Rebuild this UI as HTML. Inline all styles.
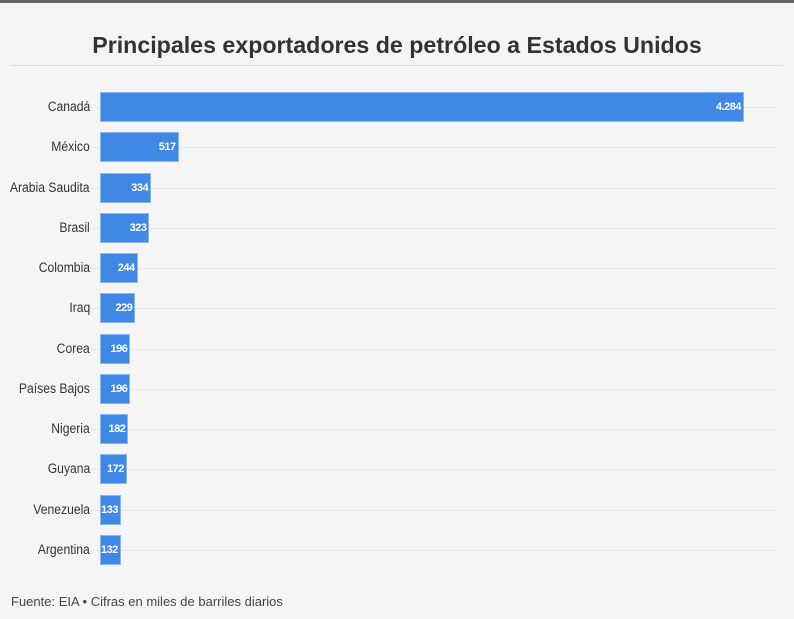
<!DOCTYPE html>
<html><head><meta charset="utf-8"><style>
body{margin:0;width:794px;height:619px;background:#f5f5f5;font-family:"Liberation Sans",sans-serif;position:relative;overflow:hidden}
.top{position:absolute;left:0;top:0;width:794px;height:3px;background:#666}
h1{position:absolute;left:0;width:794px;top:30px;margin:0;text-align:center;font-size:23.2px;font-weight:bold;color:#333;line-height:30px}
.hr{position:absolute;left:11px;width:772px;top:65px;height:1px;background:#ddd}
.lab{position:absolute;right:704px;font-size:13.5px;color:#333;line-height:16px;white-space:nowrap;transform:scaleX(0.9);transform-origin:right}
.grid{position:absolute;left:90px;width:686px;height:1px;background:#e8e8e8}
.bar{position:absolute;left:100px;height:30px;background:#3f88e6;box-sizing:border-box;border:1px solid #8bb6ee;color:#fff;font-size:11px;font-weight:bold;text-align:right;line-height:28px;padding-right:2px;letter-spacing:-0.5px}
.foot{position:absolute;left:11px;top:594px;font-size:13px;color:#444}
</style></head><body>
<div class="top"></div>
<h1>Principales exportadores de petróleo a Estados Unidos</h1>
<div class="hr"></div>
<script>
var d=[["Canadá",4284,"4.284"],["México",517],["Arabia Saudita",334],["Brasil",323],["Colombia",244],["Iraq",229],["Corea",196],["Países Bajos",196],["Nigeria",182],["Guyana",172],["Venezuela",133],["Argentina",132]];
var h="";
d.forEach(function(r,i){var c=107+i*40.27;var w=r[1]*0.1501+1;
h+='<div class="grid" style="top:'+Math.round(c)+'px"></div>';
h+='<div class="lab" style="top:'+(c-8)+'px">'+r[0]+'</div>';
h+='<div class="bar" style="top:'+(c-15)+'px;width:'+w+'px">'+(r[2]||r[1])+'</div>';});
document.write(h);
</script>
<div class="foot">Fuente: EIA • Cifras en miles de barriles diarios</div>
</body></html>
